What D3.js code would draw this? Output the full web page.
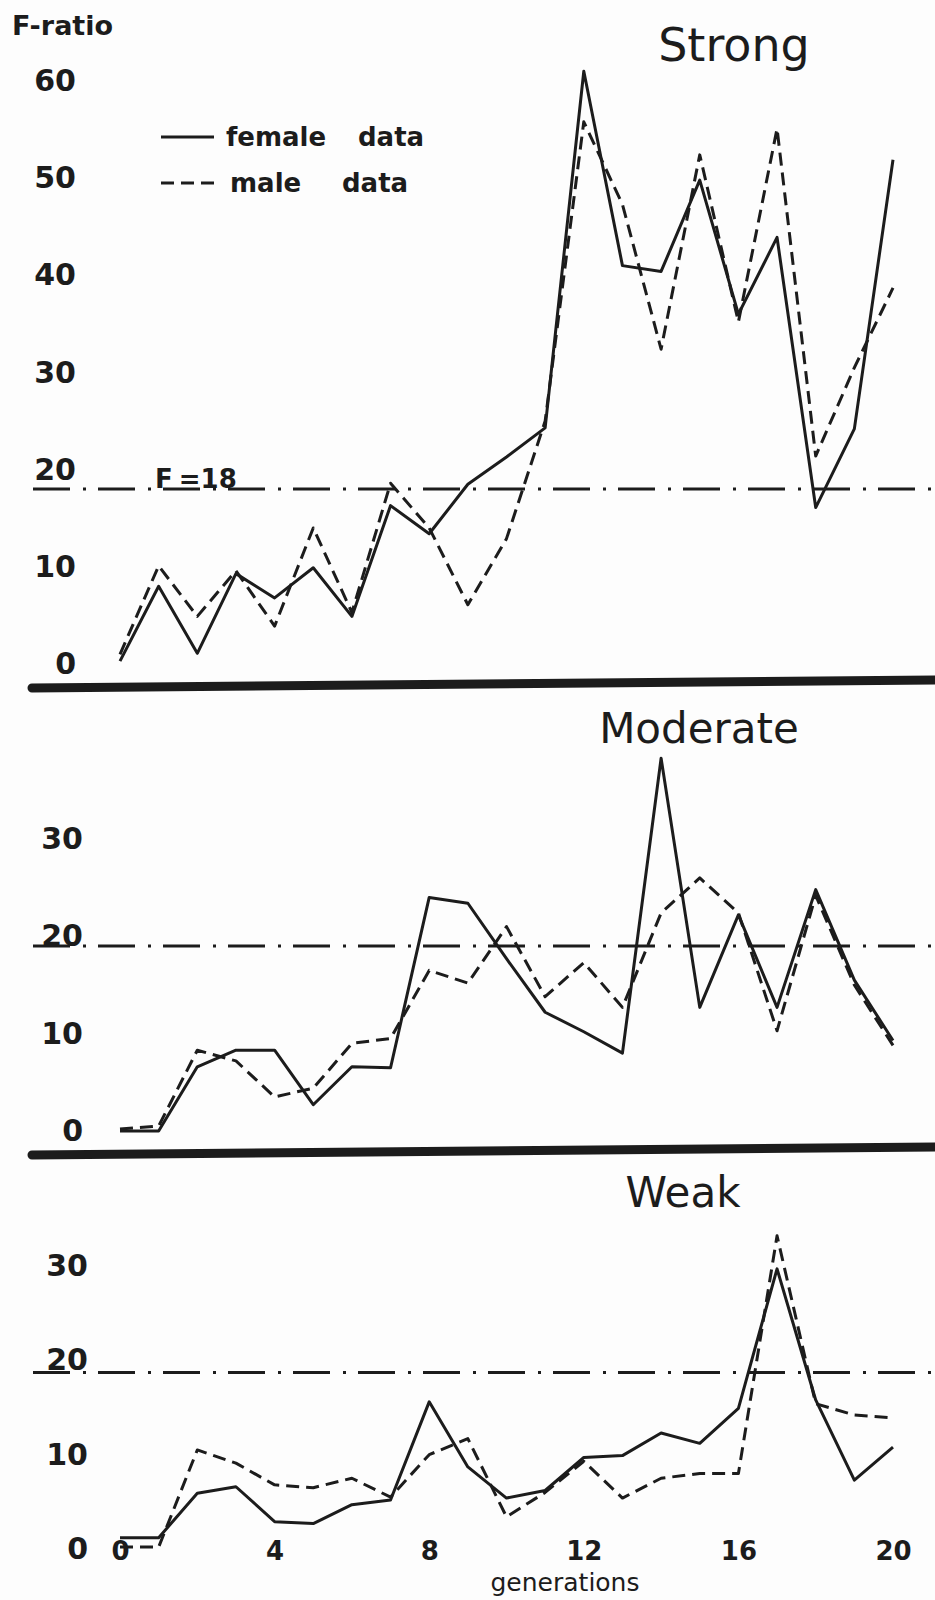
<!DOCTYPE html>
<html>
<head>
<meta charset="utf-8">
<script src="https://cdn.jsdelivr.net/npm/d3@7"></script>
<style>
  body { margin: 0; background: #fdfdfd; }
  svg { display: block; }
  text { font-family: "DejaVu Sans", sans-serif; fill: #1c1c1c; }
</style>
</head>
<body>
<svg id="chart"></svg>
<script>
const width = 935;
const height = 1600;

// generations 0..20
const generations = d3.range(0, 21);

const strongFemale = [0.3, 8, 1.1, 9.3, 6.8, 9.9, 4.9, 16.3, 13.4, 18.5, 21.3, 24.3, 61, 41, 40.4, 49.8, 36, 43.9, 16.1, 24.2, 51.9];
const strongMale = [1, 10.1, 4.9, 9.6, 3.9, 14, 5.3, 18.6, 14, 6.1, 12.9, 25, 55.8, 47.3, 32.4, 52.4, 35.2, 55.1, 21.4, 30.5, 38.7];

const moderateFemale = [0, 0, 6.6, 8.3, 8.3, 2.7, 6.6, 6.5, 24, 23.4, 17.7, 12.2, 10.2, 8, 38.3, 12.7, 22.2, 12.7, 24.8, 15.5, 9.3];
const moderateMale = [0.2, 0.5, 8.3, 7.2, 3.5, 4.4, 9, 9.5, 16.5, 15.2, 21, 13.8, 17.3, 12.7, 22.4, 26, 22.4, 10.3, 24.2, 15, 8.8];

const weakFemale = [1.2, 1.2, 5.9, 6.6, 2.9, 2.7, 4.7, 5.2, 15.6, 8.7, 5.4, 6.2, 9.7, 9.9, 12.3, 11.2, 14.9, 29.7, 15.8, 7.3, 10.8];
const weakMale = [0.2, 0.2, 10.5, 9.1, 6.8, 6.5, 7.5, 5.5, 10, 11.7, 3.4, 6, 9.3, 5.4, 7.5, 8, 8, 33.2, 15.4, 14.2, 13.9];

const panelNames = ["Strong", "Moderate", "Weak"];
const yTickValues = [[0, 10, 20, 30, 40, 50, 60], [0, 10, 20, 30], [0, 10, 20, 30]];
const yMax = [60, 30, 30];
const thresholds = [18, 19, 18.7];
const xTickValues = [0, 4, 8, 12, 16, 20];

const panelData = [
    { female: strongFemale, male: strongMale },
    { female: moderateFemale, male: moderateMale },
    { female: weakFemale, male: weakMale }
];

// layout of each panel on the page
const layout = [
    { top: 81, bottom: 664, axisX: 76, titleX: 734, titleY: 61, titleSize: 46 },
    { top: 839, bottom: 1131, axisX: 83, titleX: 699, titleY: 743, titleSize: 42 },
    { top: 1266, bottom: 1549, axisX: 88, titleX: 683, titleY: 1207, titleSize: 42 }
];

const ink = "#1c1c1c";
const maleDash = "13,7";
const thresholdDash = "37,13,3,12";

const svg = d3.select("#chart")
    .attr("width", width)
    .attr("height", height);

const x = d3.scaleLinear()
    .domain([0, 20])
    .range([120, 893]);

panelNames.forEach((name, p) => {
    const lay = layout[p];
    const y = d3.scaleLinear()
        .domain([0, yMax[p]])
        .range([lay.bottom, lay.top]);

    const g = svg.append("g").attr("class", "panel");

    // y axis labels only
    const yAxis = g.append("g")
        .attr("transform", `translate(${lay.axisX},0)`)
        .call(d3.axisLeft(y).tickValues(yTickValues[p]).tickSize(0).tickPadding(0));
    yAxis.select(".domain").remove();
    yAxis.selectAll("text")
        .style("font-size", "30px")
        .style("font-weight", "bold")
        .attr("fill", ink);

    // threshold line
    g.append("line")
        .attr("x1", 33)
        .attr("x2", width)
        .attr("y1", y(thresholds[p]))
        .attr("y2", y(thresholds[p]))
        .attr("stroke", ink)
        .attr("stroke-width", 3)
        .attr("stroke-dasharray", thresholdDash);

    const line = d3.line()
        .x((d, i) => x(generations[i]))
        .y(d => y(d));

    g.append("path")
        .datum(panelData[p].male)
        .attr("d", line)
        .attr("fill", "none")
        .attr("stroke", ink)
        .attr("stroke-width", 3)
        .attr("stroke-dasharray", maleDash)
        .attr("stroke-linejoin", "round");

    g.append("path")
        .datum(panelData[p].female)
        .attr("d", line)
        .attr("fill", "none")
        .attr("stroke", ink)
        .attr("stroke-width", 3)
        .attr("stroke-linejoin", "round");

    g.append("text")
        .attr("x", lay.titleX)
        .attr("y", lay.titleY)
        .attr("text-anchor", "middle")
        .style("font-size", lay.titleSize + "px")
        .text(name);

    if (p === 0) {
        const lbl = g.append("text")
            .attr("x", 155)
            .attr("y", y(thresholds[p]) - 1)
            .style("font-size", "26px")
            .style("font-weight", "bold");
        lbl.append("tspan").text("F");
        lbl.append("tspan").attr("dx", 6).text("=18");
    }
});

// thick separators between panels
const separators = [[688, 680], [1155, 1147]];
svg.selectAll(".sep")
    .data(separators)
    .enter()
    .append("line")
    .attr("class", "sep")
    .attr("x1", 32)
    .attr("x2", width)
    .attr("y1", d => d[0])
    .attr("y2", d => d[1])
    .attr("stroke", ink)
    .attr("stroke-width", 9)
    .attr("stroke-linecap", "round");

// x axis labels under the bottom panel
const xAxis = svg.append("g")
    .attr("transform", "translate(0,1540)")
    .call(d3.axisBottom(x).tickValues(xTickValues).tickSize(0).tickPadding(2));
xAxis.select(".domain").remove();
xAxis.selectAll("text")
    .style("font-size", "26px")
    .style("font-weight", "bold")
    .attr("fill", ink);

svg.append("text")
    .attr("x", 565)
    .attr("y", 1591)
    .attr("text-anchor", "middle")
    .style("font-size", "25px")
    .text("generations");

svg.append("text")
    .attr("x", 12)
    .attr("y", 35)
    .style("font-size", "27px")
    .style("font-weight", "bold")
    .text("F-ratio");

// legend
const legendItems = [
    { word: "female", dash: null, y: 137, textX: 226, dataX: 358 },
    { word: "male", dash: maleDash, y: 183, textX: 230, dataX: 342 }
];
const legend = svg.append("g").attr("class", "legend");
legend.selectAll("line")
    .data(legendItems)
    .enter()
    .append("line")
    .attr("x1", 161)
    .attr("x2", 214)
    .attr("y1", d => d.y)
    .attr("y2", d => d.y)
    .attr("stroke", ink)
    .attr("stroke-width", 3)
    .attr("stroke-dasharray", d => d.dash);
legend.selectAll(".lw")
    .data(legendItems)
    .enter()
    .append("text")
    .attr("class", "lw")
    .attr("x", d => d.textX)
    .attr("y", d => d.y + 9)
    .style("font-size", "26px")
    .style("font-weight", "bold")
    .text(d => d.word);
legend.selectAll(".ld")
    .data(legendItems)
    .enter()
    .append("text")
    .attr("class", "ld")
    .attr("x", d => d.dataX)
    .attr("y", d => d.y + 9)
    .style("font-size", "26px")
    .style("font-weight", "bold")
    .text("data");
</script>
</body>
</html>
